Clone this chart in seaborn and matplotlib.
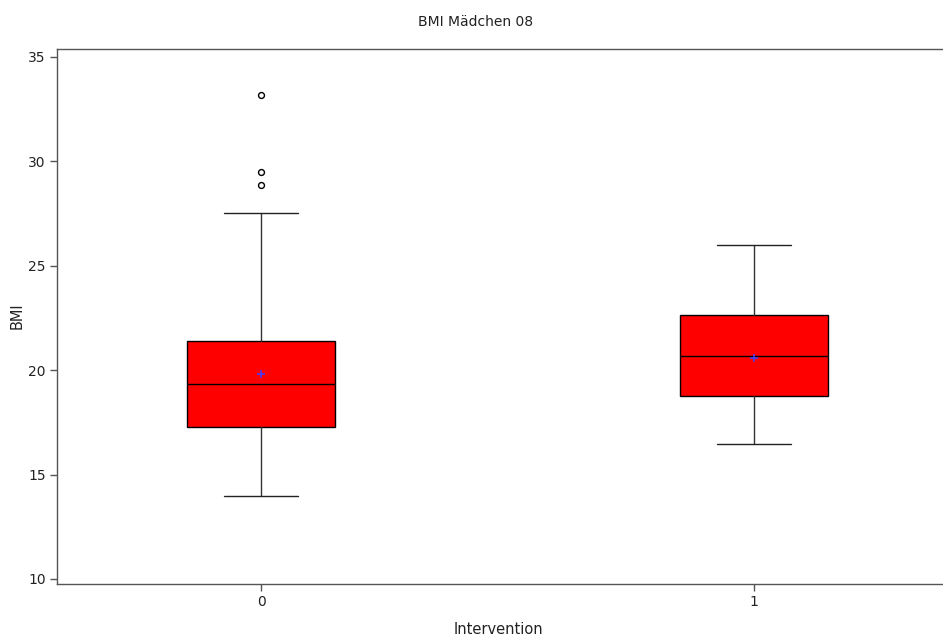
import matplotlib
matplotlib.use("Agg")
import matplotlib.pyplot as plt
import seaborn as sns
import pandas as pd

sns.set_theme(style="white")
plt.rcParams['font.family'] = ['DejaVu Sans']

# Data (summary statistics per group)
groups = ["0", "1"]
whisker_low = [13.97, 16.46]
q1 = [17.27, 18.76]
median = [19.33, 20.67]
q3 = [21.39, 22.63]
whisker_high = [27.51, 25.98]
means = [19.81, 20.57]
outliers_0 = [28.85, 29.47, 33.2]
outliers_1 = []

fig = plt.figure(figsize=(9.43, 6.39), dpi=100)
left = 57/943
width_frac = 1.01 - left
ax_h_px = 584 - 49
ax = fig.add_axes([left, 1-584/639, width_frac, ax_h_px/639])

stats = []
for i, g in enumerate(groups):
    stats.append(dict(label=g, whislo=whisker_low[i], q1=q1[i], med=median[i],
                      q3=q3[i], whishi=whisker_high[i], mean=means[i], fliers=[]))
ax.bxp(stats, positions=[0, 1], widths=0.30, patch_artist=True, showfliers=False,
       showmeans=False,
       boxprops=dict(facecolor="#ff0000", edgecolor="black", linewidth=1.0),
       medianprops=dict(color="black", linewidth=1.0),
       whiskerprops=dict(color="#333333", linewidth=1.0),
       capprops=dict(color="#222222", linewidth=1.0),
       capwidths=0.15)

out_df = pd.DataFrame({"x": [0]*len(outliers_0) + [1]*len(outliers_1),
                       "y": outliers_0 + outliers_1})
sns.scatterplot(data=out_df, x="x", y="y", ax=ax, marker="o", s=18,
                facecolor="white", edgecolor="black", linewidth=1.0, zorder=5)
mean_df = pd.DataFrame({"x": [0, 1], "y": means})
sns.scatterplot(data=mean_df, x="x", y="y", ax=ax, marker="+", s=40,
                color="#4040ff", edgecolor="#4040ff", linewidth=1.1, zorder=6)

px_per_unit = 493.0
x_left = -(261 - 57) / px_per_unit
ax.set_xlim(x_left, x_left + width_frac * 943 / px_per_unit)
ax.set_ylim(9.76, 35.38)
ax.set_xticks([0, 1])
ax.set_xticklabels(groups)
ax.set_yticks([10, 15, 20, 25, 30, 35])
ax.tick_params(axis="both", direction="out", length=5, width=1, color="#555555",
               labelsize=10, labelcolor="#222222", left=True, bottom=True, pad=3)
for s in ["left", "bottom", "top"]:
    ax.spines[s].set_color("#555555")
    ax.spines[s].set_linewidth(1.0)
ax.spines["right"].set_visible(False)

ax.set_xlabel("Intervention", fontsize=10.5, color="#222222")
ax.set_ylabel("BMI", fontsize=10.5, color="#222222")
ax_w_px = width_frac * 943
ax.yaxis.set_label_coords((17 - 57) / ax_w_px, (584 - 316) / ax_h_px)
ax.xaxis.set_label_coords((498 - 57) / ax_w_px, -(630 - 584) / ax_h_px)
ax.xaxis.label.set_va("center")
ax.yaxis.label.set_va("center")
fig.text(476/943, 1-22/639, "BMI Mädchen 08", ha="center", va="center",
         fontsize=10, color="#222222")

fig.savefig("out.png", dpi=100)
